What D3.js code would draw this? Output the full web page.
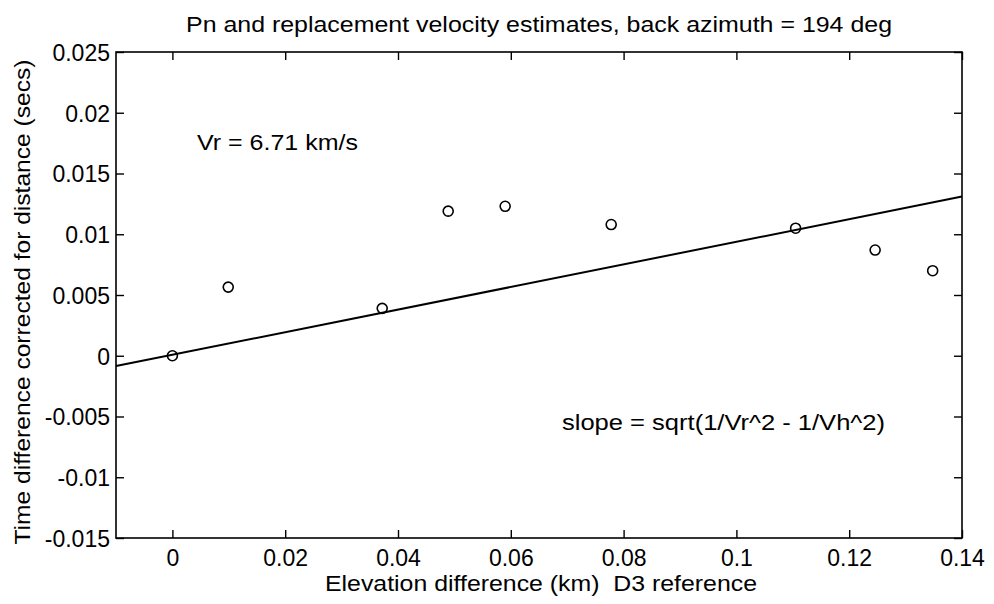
<!DOCTYPE html>
<html><head><meta charset="utf-8">
<script src="https://cdn.jsdelivr.net/npm/d3@7"></script>
<style>body{margin:0;background:#fff}svg{display:block}text{white-space:pre}</style>
</head><body><svg id="c" width="994" height="604"></svg>
<script>
// ---- data ----
const elevation = [0, 0.0099, 0.0372, 0.0489, 0.059, 0.0778, 0.1105, 0.1246, 0.1348];
const timeDiff  = [0, 0.00565, 0.0039, 0.0119, 0.0123, 0.0108, 0.0105, 0.0087, 0.0070];
const fitSlope = 0.093;
const fitIntercept = 0.00008;
const xDomain = [-0.01, 0.14];
const yDomain = [-0.015, 0.025];
const xTicks = [0, 0.02, 0.04, 0.06, 0.08, 0.1, 0.12, 0.14];
const xTickLabels = ["0", "0.02", "0.04", "0.06", "0.08", "0.1", "0.12", "0.14"];
const yTicks = [-0.015, -0.01, -0.005, 0, 0.005, 0.01, 0.015, 0.02, 0.025];
const yTickLabels = ["-0.015", "-0.01", "-0.005", "0", "0.005", "0.01", "0.015", "0.02", "0.025"];
const titleText = "Pn and replacement velocity estimates, back azimuth = 194 deg";
const xLabelText = "Elevation difference (km)  D3 reference";
const yLabelText = "Time difference corrected for distance (secs)";
const vrText = "Vr = 6.71 km/s";
const slopeText = "slope = sqrt(1/Vr^2 - 1/Vh^2)";

// ---- layout ----
const L = 116, R = 962, T = 52, B = 538;
const FONT = "'Liberation Sans', Arial, Helvetica, sans-serif";
const svg = d3.select("#c");
const x = d3.scaleLinear().domain(xDomain).range([L, R]);
const y = d3.scaleLinear().domain(yDomain).range([B, T]);
const tick = 8;

// frame
svg.append("rect").attr("x", L).attr("y", T).attr("width", R - L).attr("height", B - T)
  .attr("fill", "none").attr("stroke", "#000").attr("stroke-width", 1.6);

// bottom axis
const gx = svg.append("g").attr("transform", `translate(0,${B})`)
  .call(d3.axisBottom(x).tickValues(xTicks).tickSizeInner(-tick).tickSizeOuter(0)
    .tickFormat((d, i) => xTickLabels[i]));
gx.select(".domain").remove();
gx.selectAll("line").attr("stroke-width", 1.4);
gx.selectAll("text").attr("y", 28).attr("dy", null)
  .style("font-family", FONT).style("font-size", "23px").attr("fill", "#000");

// top axis (ticks only)
const gxt = svg.append("g").attr("transform", `translate(0,${T})`)
  .call(d3.axisTop(x).tickValues(xTicks).tickSizeInner(-tick).tickSizeOuter(0).tickFormat(""));
gxt.select(".domain").remove();
gxt.selectAll("line").attr("stroke-width", 1.4);

// left axis
const gy = svg.append("g").attr("transform", `translate(${L},0)`)
  .call(d3.axisLeft(y).tickValues(yTicks).tickSizeInner(-tick).tickSizeOuter(0)
    .tickFormat((d, i) => yTickLabels[i]));
gy.select(".domain").remove();
gy.selectAll("line").attr("stroke-width", 1.4);
gy.selectAll("text").attr("x", -6).attr("dy", "0.36em")
  .style("font-family", FONT).style("font-size", "23px").attr("fill", "#000");

// right axis (ticks only)
const gyr = svg.append("g").attr("transform", `translate(${R},0)`)
  .call(d3.axisRight(y).tickValues(yTicks).tickSizeInner(-tick).tickSizeOuter(0).tickFormat(""));
gyr.select(".domain").remove();
gyr.selectAll("line").attr("stroke-width", 1.4);

// fit line
const line = d3.line().x(d => x(d)).y(d => y(fitIntercept + fitSlope * d));
svg.append("path").datum(xDomain).attr("d", line)
  .attr("fill", "none").attr("stroke", "#000").attr("stroke-width", 2);

// points
svg.append("g").selectAll("circle").data(elevation).join("circle")
  .attr("cx", d => x(d)).attr("cy", (d, i) => y(timeDiff[i])).attr("r", 5)
  .attr("fill", "none").attr("stroke", "#000").attr("stroke-width", 1.6);

// texts
function txt(s, px, py, size, len, anchor) {
  const t = svg.append("text").attr("x", px).attr("y", py).text(s)
    .style("font-family", FONT).style("font-size", size + "px").attr("fill", "#000")
    .attr("text-anchor", anchor || "start");
  if (len) t.attr("textLength", len).attr("lengthAdjust", "spacingAndGlyphs");
  return t;
}
txt(titleText, 186, 32, 22, 706);
txt(xLabelText, 325, 591, 22, 432);
txt(vrText, 197, 150, 22, 161);
txt(slopeText, 562, 430, 22, 323);
svg.append("text").attr("transform", "translate(30,302) rotate(-90)")
  .attr("text-anchor", "middle").text(yLabelText)
  .style("font-family", FONT).style("font-size", "22px").attr("fill", "#000")
  .attr("textLength", 485).attr("lengthAdjust", "spacingAndGlyphs");
</script></body></html>
